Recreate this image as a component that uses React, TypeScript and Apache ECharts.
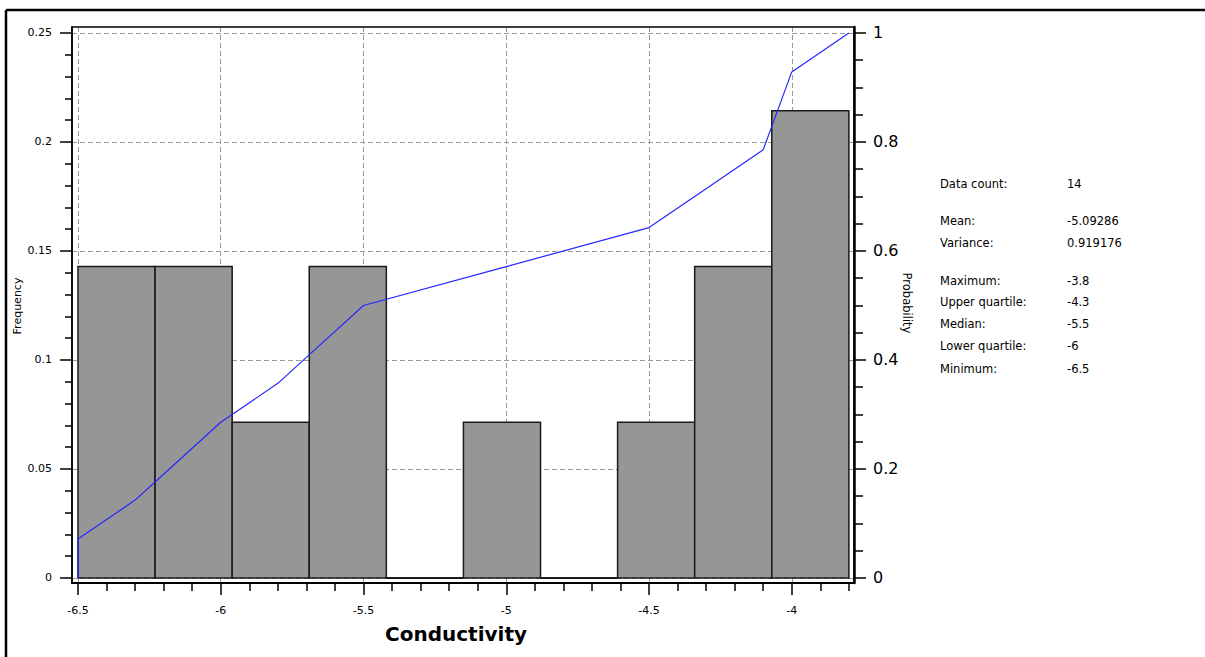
import React, { useEffect, useRef } from "react";
import * as echarts from "echarts";

// Histogram bins (Conductivity) and relative frequency
const binStart = [-6.5, -6.23, -5.96, -5.69, -5.42, -5.15, -4.88, -4.61, -4.34, -4.07];
const binEnd = [-6.23, -5.96, -5.69, -5.42, -5.15, -4.88, -4.61, -4.34, -4.07, -3.8];
const frequency = [0.1429, 0.1429, 0.0714, 0.1429, 0, 0.0714, 0, 0.0714, 0.1429, 0.2143];

// Cumulative probability curve
const cdfX = [-6.5, -6.5, -6.3, -6.15, -6.0, -5.8, -5.65, -5.5, -5.0, -4.5, -4.3, -4.1, -4.05, -4.0, -3.8];
const cdfP = [0, 0.0714, 0.1429, 0.2143, 0.2857, 0.3571, 0.4286, 0.5, 0.5714, 0.6429, 0.7143, 0.7857, 0.8571, 0.9286, 1];

// Axis ticks
const xTicks = [-6.5, -6, -5.5, -5, -4.5, -4];
const xMinorTicks = [-6.4, -6.3, -6.2, -6.1, -5.9, -5.8, -5.7, -5.6, -5.4, -5.3, -5.2, -5.1, -4.9, -4.8, -4.7, -4.6, -4.4, -4.3, -4.2, -4.1, -3.9, -3.8];
const freqTicks = [0, 0.05, 0.1, 0.15, 0.2, 0.25];
const freqMinorTicks = [0.01, 0.02, 0.03, 0.04, 0.06, 0.07, 0.08, 0.09, 0.11, 0.12, 0.13, 0.14, 0.16, 0.17, 0.18, 0.19, 0.21, 0.22, 0.23, 0.24];
const probTicks = [0, 0.2, 0.4, 0.6, 0.8, 1];
const probMinorTicks = [0.05, 0.1, 0.15, 0.25, 0.3, 0.35, 0.45, 0.5, 0.55, 0.65, 0.7, 0.75, 0.85, 0.9, 0.95];

// Statistics panel
const statLabels = ["Data count:", "Mean:", "Variance:", "Maximum:", "Upper quartile:", "Median:", "Lower quartile:", "Minimum:"];
const statValues = ["14", "-5.09286", "0.919176", "-3.8", "-4.3", "-5.5", "-6", "-6.5"];
const statRowY = [184, 221, 243, 281, 302, 324, 346, 369];

const FONT = "DejaVu Sans";

export default function App() {
  const ref = useRef<HTMLDivElement>(null);

  useEffect(() => {
    if (!ref.current) return;
    const chart = echarts.init(ref.current, null, { renderer: "svg" });

    const gridL = 72, gridT = 27, gridW = 782, gridH = 556;
    const xMin = -6.521, xMax = -3.782;
    const yMin = -0.0023, yMax = 0.25275;
    const pMin = yMin * 4, pMax = yMax * 4;

    const labelStyle = { fontFamily: FONT, fontSize: 11, color: "#000" };

    const graphics: any[] = [
      // outer frame
      { type: "line", shape: { x1: 6, y1: 10, x2: 6, y2: 657 }, style: { stroke: "#000", lineWidth: 2.5 }, z: 100 },
      { type: "line", shape: { x1: 6, y1: 10, x2: 1205, y2: 10 }, style: { stroke: "#000", lineWidth: 2.5 }, z: 100 },
      // plot frame
      { type: "rect", shape: { x: gridL, y: gridT, width: gridW, height: gridH }, style: { fill: "none", stroke: "#000", lineWidth: 1.5 }, z: 100 },
      { type: "text", x: 456, y: 634, style: { text: "Conductivity", font: `bold 20px "${FONT}"`, fill: "#000", align: "center", verticalAlign: "middle" } },
      { type: "text", x: 17, y: 306, rotation: Math.PI / 2, style: { text: "Frequency", font: `11px "${FONT}"`, fill: "#000", align: "center", verticalAlign: "middle" } },
      { type: "text", x: 907, y: 303, rotation: -Math.PI / 2, style: { text: "Probability", font: `11.5px "${FONT}"`, fill: "#000", align: "center", verticalAlign: "middle" } },
    ];
    statLabels.forEach((l, i) => {
      graphics.push({ type: "text", x: 940, y: statRowY[i], style: { text: l, font: `11.5px "${FONT}"`, fill: "#000", align: "left", verticalAlign: "middle" } });
      graphics.push({ type: "text", x: 1067, y: statRowY[i], style: { text: statValues[i], font: `11.5px "${FONT}"`, fill: "#000", align: "left", verticalAlign: "middle" } });
    });

    const histData = binStart.map((s, i) => [s, binEnd[i], frequency[i]]);
    const lineData = cdfX.map((x, i) => [x, cdfP[i]]);

    chart.setOption({
      animation: false,
      backgroundColor: "#fff",
      grid: { left: gridL, top: gridT, width: gridW, height: gridH, containLabel: false },
      xAxis: [
        {
          type: "value", min: xMin, max: xMax, position: "bottom",
          axisLine: { show: true, onZero: false, lineStyle: { color: "#000", width: 2 } },
          axisTick: { show: true, length: 12, customValues: xTicks, lineStyle: { color: "#000", width: 1.5 } },
          axisLabel: { show: true, customValues: xTicks, margin: 22, ...labelStyle },
          splitLine: { show: true, lineStyle: { color: "#999", type: [5, 3], width: 1 } },
        },
        {
          type: "value", min: xMin, max: xMax, position: "bottom",
          axisLine: { show: false, onZero: false },
          axisTick: { show: true, length: 8, customValues: xMinorTicks, lineStyle: { color: "#000", width: 1.5 } },
          axisLabel: { show: false },
          splitLine: { show: false },
        },
      ],
      yAxis: [
        {
          type: "value", min: yMin, max: yMax, position: "left",
          axisLine: { show: true, onZero: false, lineStyle: { color: "#000", width: 1.5 } },
          axisTick: { show: true, length: 12, customValues: freqTicks, lineStyle: { color: "#000", width: 1.5 } },
          axisLabel: { show: true, customValues: freqTicks, margin: 20, ...labelStyle },
          splitLine: { show: true, lineStyle: { color: "#999", type: [5, 3], width: 1 } },
        },
        {
          type: "value", min: yMin, max: yMax, position: "left",
          axisLine: { show: false, onZero: false },
          axisTick: { show: true, length: 7, customValues: freqMinorTicks, lineStyle: { color: "#000", width: 1.5 } },
          axisLabel: { show: false },
          splitLine: { show: false },
        },
        {
          type: "value", min: pMin, max: pMax, position: "right",
          axisLine: { show: true, onZero: false, lineStyle: { color: "#000", width: 2.5 } },
          axisTick: { show: true, length: 12, customValues: probTicks, lineStyle: { color: "#000", width: 1.5 } },
          axisLabel: { show: true, customValues: probTicks, margin: 19, fontFamily: FONT, fontSize: 16, color: "#000" },
          splitLine: { show: false },
        },
        {
          type: "value", min: pMin, max: pMax, position: "right",
          axisLine: { show: false, onZero: false },
          axisTick: { show: true, length: 9, customValues: probMinorTicks, lineStyle: { color: "#000", width: 1.5 } },
          axisLabel: { show: false },
          splitLine: { show: false },
        },
      ],
      graphic: graphics,
      series: [
        {
          type: "custom",
          xAxisIndex: 0,
          yAxisIndex: 0,
          data: histData,
          encode: { x: [0, 1], y: 2 },
          z: 5,
          renderItem: (params: any, api: any) => {
            const x0 = api.value(0), x1 = api.value(1), f = api.value(2);
            const p0 = api.coord([x0, 0]);
            const p1 = api.coord([x1, f]);
            if (f === 0) {
              return { type: "line", shape: { x1: p0[0], y1: p0[1], x2: p1[0], y2: p0[1] }, style: { stroke: "#1a1a1a", lineWidth: 2 } };
            }
            return {
              type: "rect",
              shape: { x: p0[0], y: p1[1], width: p1[0] - p0[0], height: p0[1] - p1[1] },
              style: { fill: "#969696", stroke: "#1a1a1a", lineWidth: 1.5 },
            };
          },
        },
        {
          type: "line",
          xAxisIndex: 0,
          yAxisIndex: 2,
          data: lineData,
          showSymbol: false,
          symbol: "none",
          z: 10,
          lineStyle: { color: "#2626ff", width: 1.2 },
        },
      ],
    });

    return () => chart.dispose();
  }, []);

  return (
    <div
      ref={ref}
      style={{ position: "fixed", left: 0, top: 0, width: 1205, height: 657, background: "#fff" }}
    />
  );
}
